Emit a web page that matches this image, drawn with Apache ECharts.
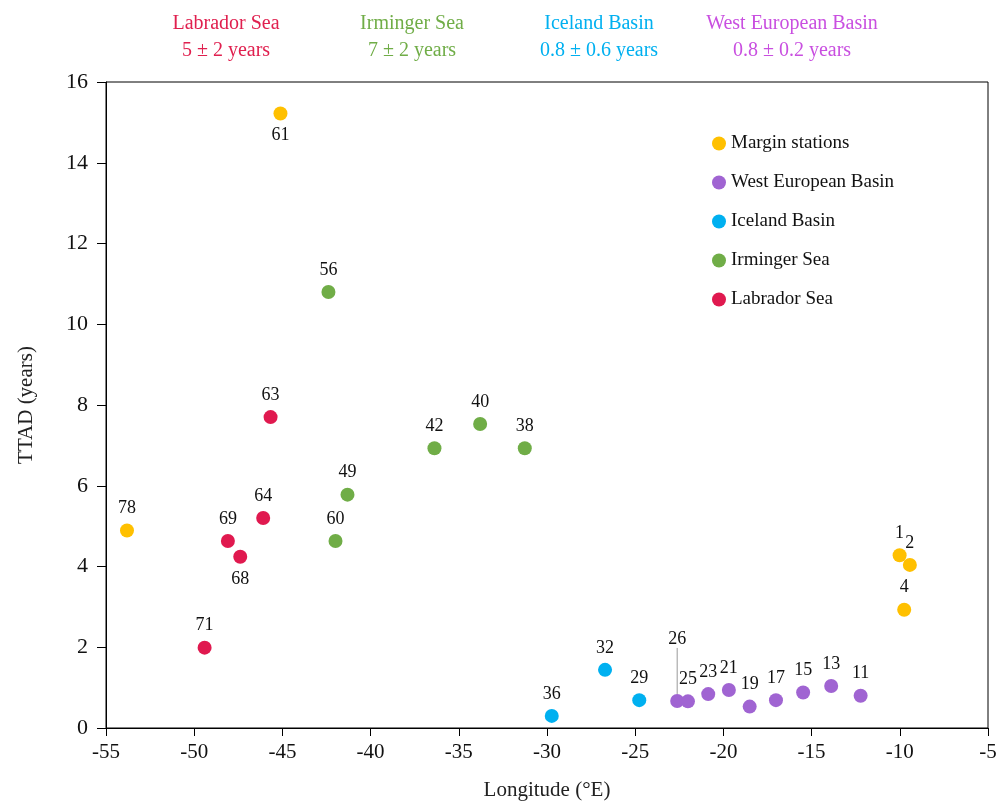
<!DOCTYPE html>
<html>
<head>
<meta charset="utf-8">
<script src="https://cdn.jsdelivr.net/npm/echarts@6/dist/echarts.min.js"></script>
<style>html,body{margin:0;padding:0;background:#fff}#c{width:1000px;height:806px}</style>
</head>
<body>
<div id="c"></div>
<script>
// ---- data ----
const marginNames = ['61', '78', '1', '2', '4'];
const marginX = [-45.11, -53.81, -10.01, -9.43, -9.75];
const marginY = [15.22, 4.89, 4.28, 4.04, 2.93];

const webNames = ['26', '25', '23', '21', '19', '17', '15', '13', '11'];
const webX = [-22.62, -22.01, -20.86, -19.69, -18.51, -17.02, -15.48, -13.89, -12.22];
const webY = [0.67, 0.66, 0.84, 0.94, 0.53, 0.69, 0.88, 1.04, 0.80];

const icelandNames = ['36', '32', '29'];
const icelandX = [-29.73, -26.71, -24.77];
const icelandY = [0.30, 1.44, 0.69];

const irmingerNames = ['56', '42', '40', '38', '49', '60'];
const irmingerX = [-42.39, -36.38, -33.79, -31.26, -41.31, -41.99];
const irmingerY = [10.80, 6.93, 7.53, 6.93, 5.78, 4.63];

const labradorNames = ['63', '64', '69', '68', '71'];
const labradorX = [-45.67, -46.09, -48.09, -47.39, -49.41];
const labradorY = [7.70, 5.20, 4.63, 4.24, 1.99];

const basinTitles = ['Labrador Sea', 'Irminger Sea', 'Iceland Basin', 'West European Basin'];
const basinTTAD = ['5 \u00b1 2 years', '7 \u00b1 2 years', '0.8 \u00b1 0.6 years', '0.8 \u00b1 0.2 years'];

const belowLabels = ['61', '68'];
const leaderLabels = ['26'];

// ---- chart ----
const FONT = '"Liberation Serif", "Times New Roman", serif';
const chart = echarts.init(document.getElementById('c'));

function build(names, xs, ys) {
  return names.map((n, i) => {
    const item = { name: n, value: [xs[i], ys[i]] };
    if (belowLabels.includes(n)) item.label = { position: 'bottom' };
    if (leaderLabels.includes(n)) item.labelLine = { show: true, lineStyle: { color: '#999', width: 1 } };
    return item;
  });
}

function series(name, color, names, xs, ys) {
  return {
    name: name,
    type: 'scatter',
    symbol: 'circle',
    symbolSize: 14,
    itemStyle: { color: color, opacity: 1 },
    data: build(names, xs, ys),
    label: {
      show: true,
      position: 'top',
      distance: 6,
      formatter: p => p.name,
      color: '#111',
      fontFamily: FONT,
      fontSize: 18
    },
    labelLine: { show: false },
    labelLayout: function (p) {
      if (leaderLabels.includes(names[p.dataIndex])) return { dy: -40 };
      return {};
    },
    emphasis: { disabled: true }
  };
}

const sMargin = series('Margin stations', '#FFC000', marginNames, marginX, marginY);
const sWeb = series('West European Basin', '#A064D2', webNames, webX, webY);
const sIce = series('Iceland Basin', '#00B0F0', icelandNames, icelandX, icelandY);
const sIrm = series('Irminger Sea', '#70AD47', irmingerNames, irmingerX, irmingerY);
const sLab = series('Labrador Sea', '#E0194F', labradorNames, labradorX, labradorY);

const titleX = [226, 412, 599, 792];
const titleColors = ['#E0204F', '#70AD47', '#00B0F0', '#C94FE0'];
const graphics = [];
basinTitles.forEach((t, i) => {
  graphics.push({
    type: 'text', x: titleX[i], y: 24,
    style: { text: t, fill: titleColors[i], font: '20px ' + FONT, textAlign: 'center', textVerticalAlign: 'middle' }
  });
  graphics.push({
    type: 'text', x: titleX[i], y: 51,
    style: { text: basinTTAD[i], fill: titleColors[i], font: '20px ' + FONT, textAlign: 'center', textVerticalAlign: 'middle' }
  });
});

chart.setOption({
  animation: false,
  textStyle: { fontFamily: FONT },
  grid: { left: 106, right: 12, top: 82, bottom: 75, show: true, borderColor: '#000', borderWidth: 1, backgroundColor: 'transparent' },
  legend: {
    orient: 'vertical',
    left: 707,
    top: 128,
    icon: 'circle',
    itemWidth: 14,
    itemHeight: 14,
    itemGap: 18,
    textStyle: { fontFamily: FONT, fontSize: 19, color: '#111', lineHeight: 21 },
    data: ['Margin stations', 'West European Basin', 'Iceland Basin', 'Irminger Sea', 'Labrador Sea']
  },
  xAxis: {
    type: 'value',
    min: -55, max: -5, interval: 5,
    name: 'Longitude (\u00b0E)',
    nameLocation: 'middle',
    nameGap: 52,
    nameTextStyle: { fontFamily: FONT, fontSize: 21, color: '#222' },
    axisLine: { show: true, onZero: false, lineStyle: { color: '#000', width: 1 } },
    axisTick: { show: true, length: 8, lineStyle: { color: '#000' } },
    axisLabel: { fontFamily: FONT, fontSize: 21, color: '#111', margin: 14 },
    splitLine: { show: false }
  },
  yAxis: {
    type: 'value',
    min: 0, max: 16, interval: 2,
    name: 'TTAD (years)',
    nameLocation: 'middle',
    nameGap: 69,
    nameTextStyle: { fontFamily: FONT, fontSize: 21, color: '#222' },
    axisLine: { show: true, lineStyle: { color: '#000', width: 1 } },
    axisTick: { show: true, length: 9, lineStyle: { color: '#000' } },
    axisLabel: { fontFamily: FONT, fontSize: 22, color: '#111', margin: 18 },
    splitLine: { show: false }
  },
  graphic: graphics,
  series: [sLab, sIrm, sIce, sWeb, sMargin]
});
</script>
</body>
</html>
